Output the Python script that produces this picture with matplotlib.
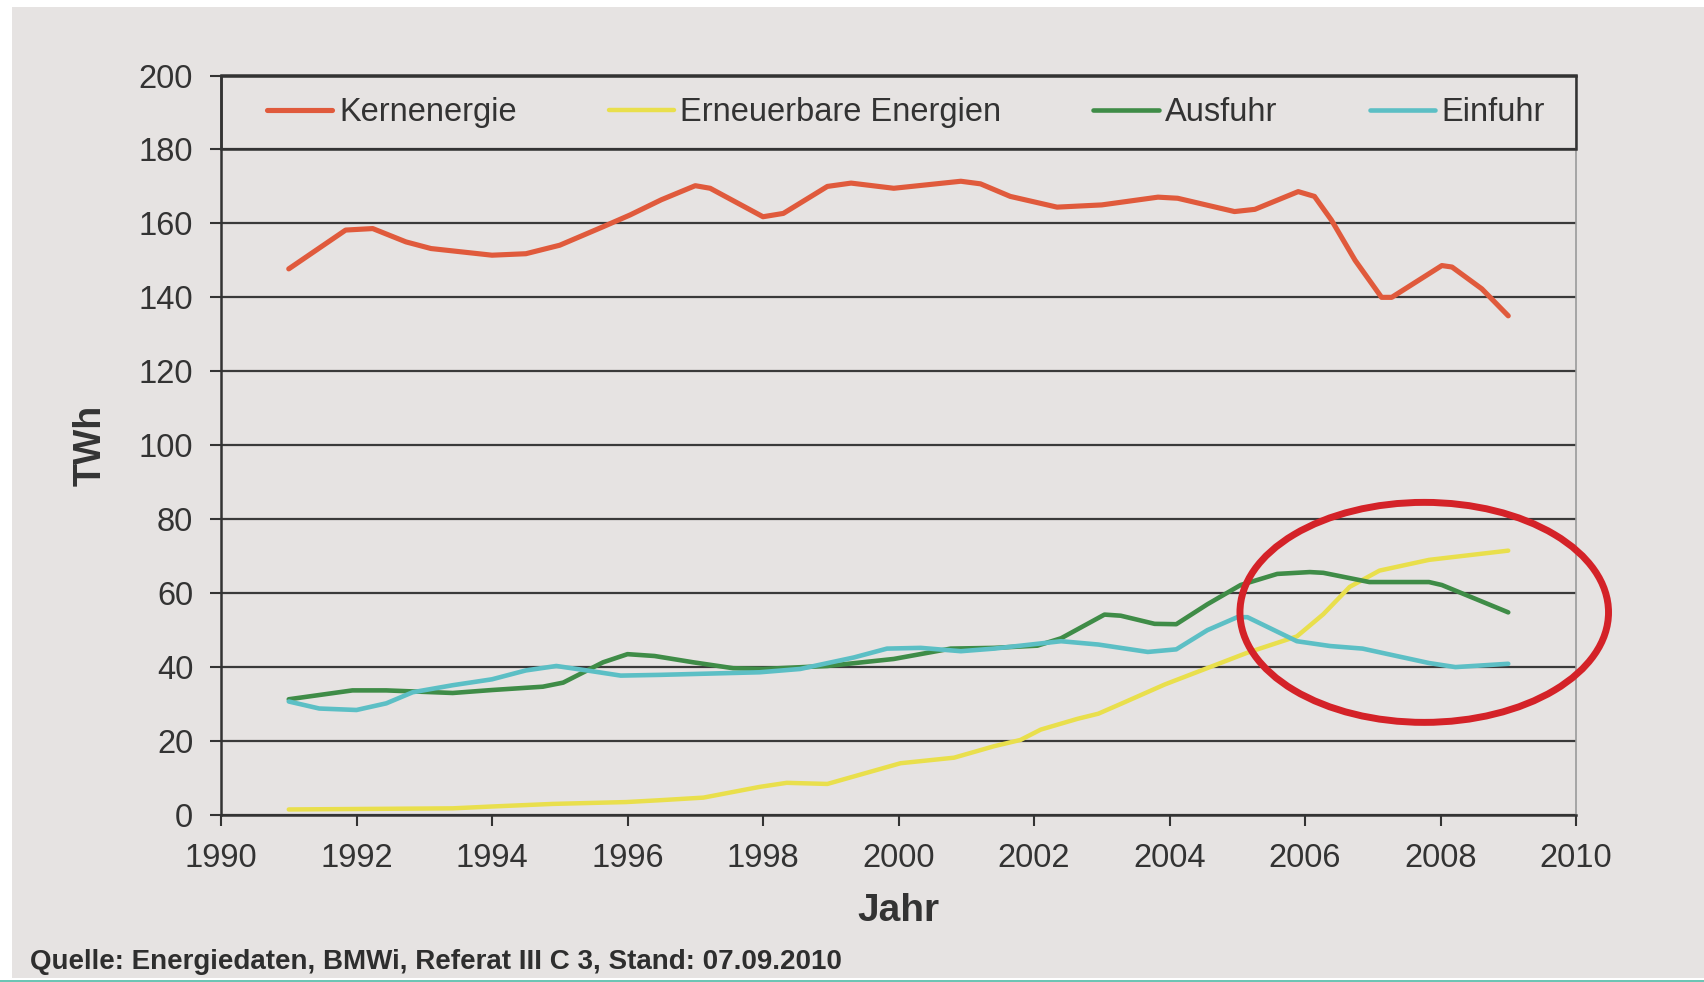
import matplotlib.pyplot as plt
from matplotlib.patches import Ellipse, Rectangle

plt.rcParams['font.family'] = ['Liberation Sans', 'DejaVu Sans']

# values (TWh)
kern_years = [1991, 1991.84, 1992.24, 1992.73, 1993.1, 1994.0, 1994.5, 1995.0, 1995.64,
              1996.04, 1996.5, 1997.0, 1997.22, 1998.0, 1998.3, 1998.95, 1999.3, 1999.93,
              2000.92, 2001.21, 2001.65, 2002.34, 2003.0, 2003.83, 2004.12, 2004.96,
              2005.26, 2005.9, 2006.14, 2006.39, 2006.74, 2007.13, 2007.28, 2008.02,
              2008.17, 2008.61, 2009.0]
kern = [147.7, 158.2, 158.6, 155.0, 153.2, 151.4, 151.8, 154.1, 159.1,
        162.3, 166.4, 170.2, 169.5, 161.8, 162.7, 170.0, 170.9, 169.5,
        171.4, 170.7, 167.3, 164.4, 165.0, 167.1, 166.8, 163.2,
        163.8, 168.6, 167.3, 160.9, 150.0, 140.0, 140.0, 148.6,
        148.2, 142.3, 135.0]

ee_years = [1991, 1993.42, 1994.0, 1994.9, 1995.98, 1996.48, 1997.12, 1997.95, 1998.35,
            1998.95, 2000.03, 2000.82, 2001.41, 2001.8, 2002.1, 2002.64, 2002.95, 2003.3,
            2003.93, 2005.15, 2005.88, 2006.27, 2006.66, 2007.1, 2007.83, 2009.0]
ee = [1.5, 1.8, 2.3, 3.0, 3.5, 4.0, 4.7, 7.6, 8.7,
      8.4, 14.0, 15.5, 18.6, 20.3, 23.1, 26.0, 27.4, 30.2,
      35.3, 43.9, 48.3, 54.3, 61.7, 66.1, 69.0, 71.5]

aus_years = [1991, 1991.94, 1992.44, 1993.42, 1994.0, 1994.75, 1995.05, 1995.64, 1996.0,
             1996.4, 1996.97, 1997.56, 1998.0, 1998.95, 1999.93, 2000.77, 2001.41, 2002.05,
             2002.4, 2003.04, 2003.28, 2003.78, 2004.1, 2004.56, 2005.05, 2005.59, 2006.07,
             2006.27, 2006.95, 2007.83, 2008.02, 2009.0]
aus = [31.3, 33.7, 33.7, 33.0, 33.8, 34.7, 35.8, 41.3, 43.5,
       43.0, 41.3, 39.7, 39.5, 40.3, 42.2, 45.0, 45.2, 45.8,
       47.8, 54.2, 53.9, 51.7, 51.6, 57.0, 62.2, 65.2, 65.7,
       65.5, 63.0, 63.0, 62.2, 54.8]

ein_years = [1991, 1991.45, 1992.0, 1992.44, 1992.83, 1993.42, 1994.0, 1994.5, 1994.95,
             1995.4, 1995.9, 1996.48, 1997.95, 1998.55, 1999.34, 1999.83, 2000.33, 2000.92,
             2001.41, 2002.15, 2002.4, 2002.95, 2003.68, 2004.1, 2004.56, 2005.0, 2005.15,
             2005.88, 2006.37, 2006.85, 2007.83, 2008.22, 2009.0]
ein = [30.7, 28.8, 28.4, 30.2, 33.2, 35.1, 36.7, 39.1, 40.3,
       39.1, 37.7, 37.9, 38.6, 39.5, 42.6, 45.0, 45.2, 44.3,
       45.0, 46.5, 47.0, 46.1, 44.1, 44.8, 50.0, 53.5, 53.5,
       47.0, 45.7, 45.0, 41.1, 40.0, 40.9]

labels = ["Kernenergie", "Erneuerbare Energien", "Ausfuhr", "Einfuhr"]
colors = ["#e05a3c", "#e9df4c", "#3f8c47", "#5cbfc5"]
xticks = list(range(1990, 2011, 2))
yticks = list(range(0, 201, 20))

bg = "#e6e3e2"
dark = "#333333"

fig = plt.figure(figsize=(17.04, 9.82), dpi=100, facecolor="white")
fig.patches.append(Rectangle((12 / 1704, 0.004), 1, 1 - 0.004 - 7 / 982,
                             transform=fig.transFigure, facecolor=bg, edgecolor="none", zorder=-10))
fig.patches.append(Rectangle((0, 0), 1, 0.0025, transform=fig.transFigure,
                             facecolor="#6cc4b4", edgecolor="none", zorder=-10))

ax = fig.add_axes([221 / 1704, 167 / 982, 1355 / 1704, 739.5 / 982])
ax.set_facecolor(bg)

line_kw = dict(solid_capstyle="round", solid_joinstyle="round")
ax.plot(kern_years, kern, color=colors[0], lw=3.7, label=labels[0], **line_kw)
ax.plot(ee_years, ee, color=colors[1], lw=3.2, label=labels[1], **line_kw)
ax.plot(aus_years, aus, color=colors[2], lw=3.3, label=labels[2], **line_kw)
ax.plot(ein_years, ein, color=colors[3], lw=3.3, label=labels[3], **line_kw)

ax.set_xlim(1990, 2010)
ax.set_ylim(0, 200)
ax.set_xticks(xticks)
ax.set_yticks(yticks)
ax.tick_params(axis="both", direction="out", length=8, width=1.5, color=dark,
               labelsize=23.5, labelcolor=dark, pad=12)
ax.grid(axis="y", color="#3a3a3a", lw=1.6)
ax.set_axisbelow(True)
for s in ["left", "bottom", "top"]:
    ax.spines[s].set_color(dark)
    ax.spines[s].set_linewidth(1.8)
ax.spines["right"].set_color("#9a9a9a")
ax.spines["right"].set_linewidth(1.2)

ax.set_ylabel("TWh", fontsize=27, fontweight="bold", color=dark)
ax.yaxis.set_label_coords(-0.083, 0.5)
ax.set_xlabel("Jahr", fontsize=28, fontweight="bold", color=dark)
ax.xaxis.set_label_coords(0.5, -0.105)

# legend box sits in the band between 180 and 200
ax.add_patch(Rectangle((0, 0.9), 1, 0.1, transform=ax.transAxes, fill=False,
                       edgecolor=dark, lw=1.8, clip_on=False, zorder=5))
ax.legend(loc="center", bbox_to_anchor=(0.034, 0.9, 0.943, 0.1), mode="expand", ncol=4,
          frameon=False, fontsize=23.5, handlelength=2.0, handletextpad=0.2,
          borderpad=0, borderaxespad=0, labelcolor=dark)

ax.add_patch(Ellipse((2007.76, 54.8), 5.44, 59.5, fill=False, edgecolor="#d42228",
                     lw=5, clip_on=False, zorder=6))

fig.text(30 / 1704, 0.0205, "Quelle: Energiedaten, BMWi, Referat III C 3, Stand: 07.09.2010",
         fontsize=20, fontweight="bold", color="#2e2e2e", va="center", ha="left")

fig.savefig("out.png", dpi=100, facecolor=fig.get_facecolor())
